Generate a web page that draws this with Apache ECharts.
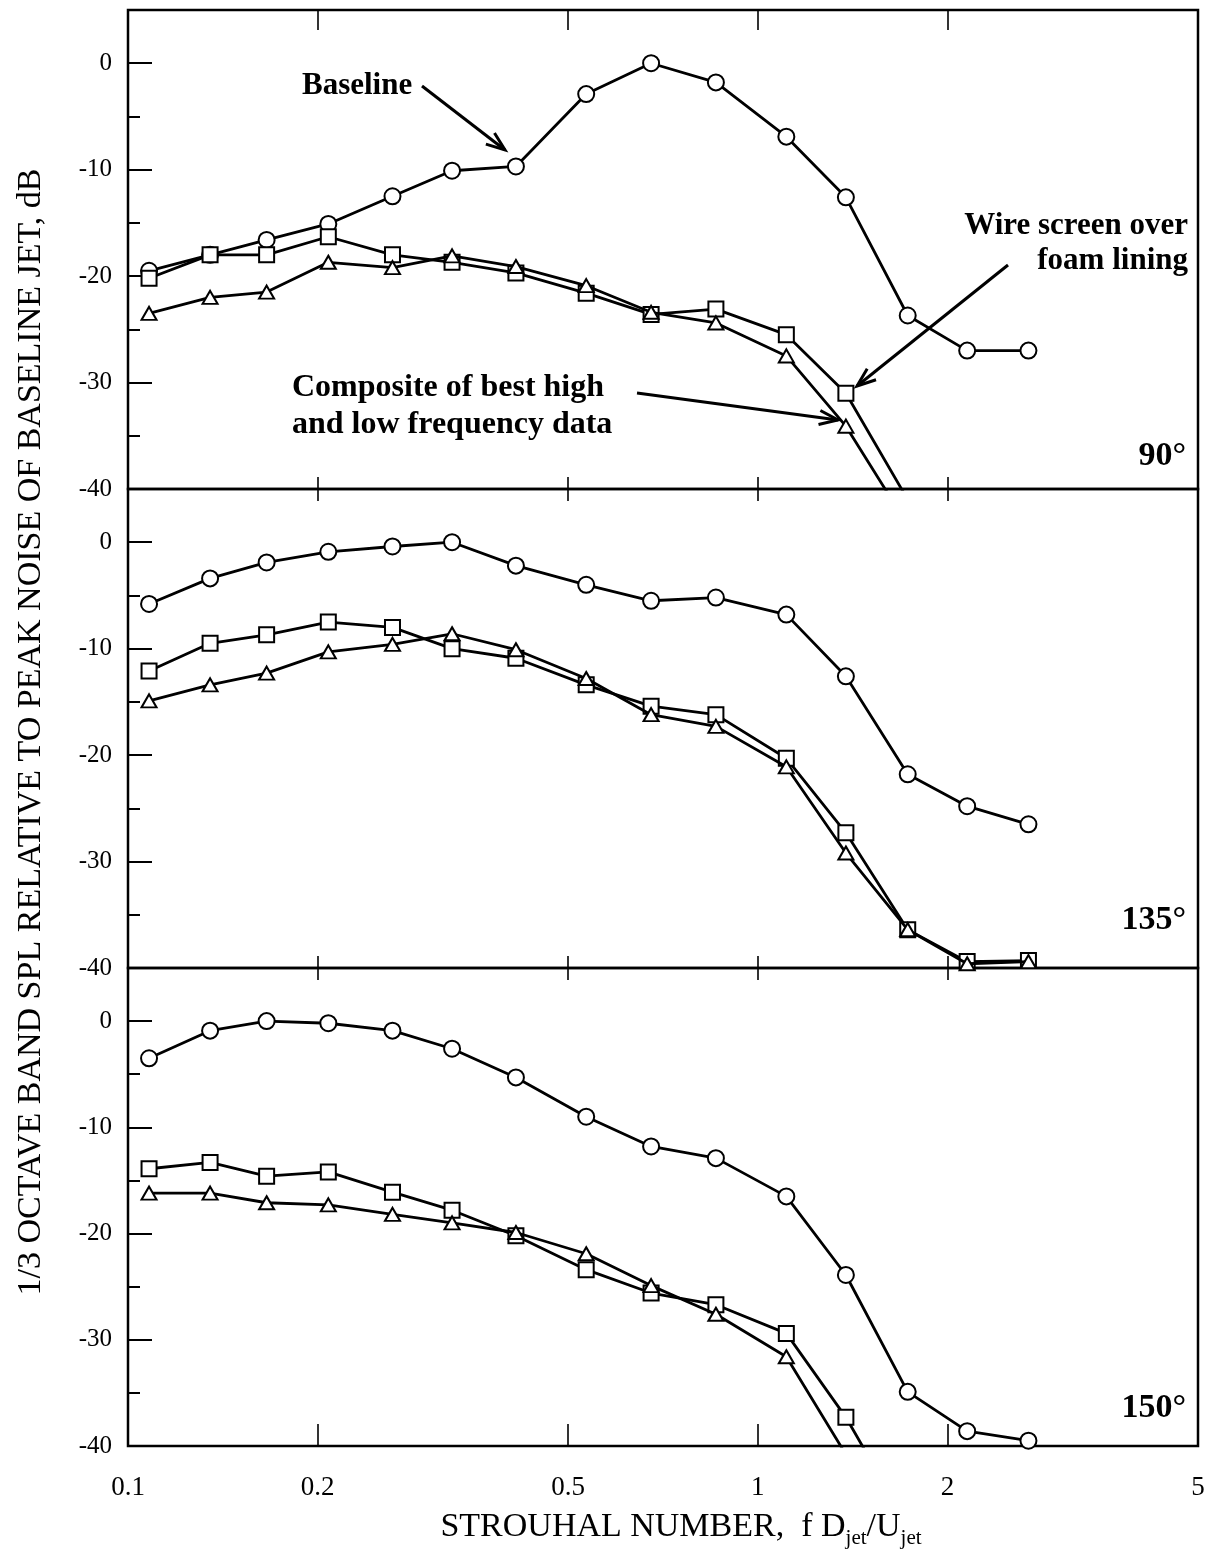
<!DOCTYPE html>
<html><head><meta charset="utf-8">
<script src="https://cdn.jsdelivr.net/npm/echarts@6/dist/echarts.min.js"></script>
<style>html,body{margin:0;padding:0;background:#fff}#c{width:1210px;height:1563px}</style>
</head><body><div id="c"></div>
<script>
// Strouhal numbers (1/3-octave band centres)
const strouhal = [0.108, 0.135, 0.166, 0.208, 0.263, 0.327, 0.413, 0.534, 0.677, 0.858, 1.11, 1.38, 1.73, 2.15, 2.69];

// 90 deg panel
const base90 = [-19.5, -18.0, -16.6, -15.1, -12.5, -10.1, -9.7, -2.9, 0.0, -1.8, -6.9, -12.6, -23.7, -27.0, -27.0];
const wire90 = [-20.2, -18.0, -18.0, -16.3, -18.0, -18.7, -19.7, -21.6, -23.6, -23.1, -25.5, -31.0, -41.0];
const comp90 = [-23.5, -22.0, -21.5, -18.7, -19.2, -18.1, -19.1, -20.9, -23.4, -24.4, -27.5, -34.1, -43.4];
// 135 deg panel
const base135 = [-5.8, -3.4, -1.9, -0.9, -0.4, 0.0, -2.2, -4.0, -5.5, -5.2, -6.8, -12.6, -21.8, -24.8, -26.5];
const wire135 = [-12.1, -9.5, -8.7, -7.5, -8.0, -10.0, -10.9, -13.4, -15.4, -16.2, -20.3, -27.3, -36.4, -39.4, -39.3];
const comp135 = [-14.9, -13.4, -12.3, -10.3, -9.6, -8.6, -10.1, -12.8, -16.2, -17.3, -21.1, -29.2, -36.4, -39.6, -39.4];
// 150 deg panel
const base150 = [-3.5, -0.9, 0.0, -0.2, -0.9, -2.6, -5.3, -9.0, -11.8, -12.9, -16.5, -23.9, -34.9, -38.6, -39.5];
const wire150 = [-13.9, -13.3, -14.6, -14.2, -16.1, -17.8, -20.2, -23.4, -25.6, -26.7, -29.4, -37.3, -47.4];
const comp150 = [-16.2, -16.2, -17.1, -17.3, -18.2, -19.0, -19.9, -21.9, -24.9, -27.6, -31.6, -40.8];

const xTicks = [0.1, 0.2, 0.5, 1, 2, 5];
const yLabels = [-40, -30, -20, -10, 0];
const yMinor = [-35, -25, -15, -5];
const panelLabels = ['90°', '135°', '150°'];

const SERIF = '"Liberation Serif", "Times New Roman", serif';
const chart = echarts.init(document.getElementById('c'), null, {renderer: 'canvas'});

const tops = [10, 489, 968], heights = [479, 479, 478];
const grid = [], xAxis = [], yAxis = [], series = [];
const panels = [[base90, wire90, comp90], [base135, wire135, comp135], [base150, wire150, comp150]];

for (let g = 0; g < 3; g++) {
  grid.push({left: 128, width: 1070, top: tops[g], height: heights[g], show: true,
    borderColor: '#000', borderWidth: 2.5, backgroundColor: 'transparent', containLabel: false});
  // bottom x axis
  xAxis.push({type: 'log', logBase: 10, min: 0.1, max: 5, gridIndex: g, position: 'bottom',
    axisLine: {show: false, onZero: false}, splitLine: {show: false}, minorTick: {show: false},
    axisTick: {show: true, inside: true, length: g === 2 ? 22 : 12, customValues: xTicks,
      lineStyle: {color: '#000', width: 1.6}},
    axisLabel: {show: g === 2, customValues: xTicks, margin: 28, color: '#000', fontFamily: SERIF, fontSize: 27,
      formatter: v => String(v)}});
  // top x axis (tick marks only)
  xAxis.push({type: 'log', logBase: 10, min: 0.1, max: 5, gridIndex: g, position: 'top',
    axisLine: {show: false, onZero: false}, splitLine: {show: false}, minorTick: {show: false},
    axisTick: {show: true, inside: true, length: g === 0 ? 20 : 12, customValues: xTicks,
      lineStyle: {color: '#000', width: 1.6}},
    axisLabel: {show: false}});
  yAxis.push({type: 'value', min: -40, max: 5, gridIndex: g, position: 'left',
    axisLine: {show: false, onZero: false}, splitLine: {show: false},
    axisTick: {show: true, inside: true, length: 24, customValues: yLabels, lineStyle: {color: '#000', width: 2}},
    axisLabel: {show: true, customValues: yLabels, margin: 16, color: '#000', fontFamily: SERIF, fontSize: 25}});
  yAxis.push({type: 'value', min: -40, max: 5, gridIndex: g, position: 'left', offset: 0,
    axisLine: {show: false, onZero: false}, splitLine: {show: false},
    axisTick: {show: true, inside: true, length: 12, customValues: yMinor, lineStyle: {color: '#000', width: 2}},
    axisLabel: {show: false}});

  const syms = [['circle', 16], ['rect', 15], ['triangle', [15, 13]]];
  panels[g].forEach((vals, k) => {
    series.push({type: 'line', xAxisIndex: g * 2, yAxisIndex: g * 2, clip: true,
      data: vals.map((v, i) => [strouhal[i], v]),
      symbol: syms[k][0], symbolSize: syms[k][1], showSymbol: true, showAllSymbol: true,
      lineStyle: {color: '#000', width: 2.8},
      itemStyle: {color: '#fff', borderColor: '#000', borderWidth: 2},
      emphasis: {disabled: true}, silent: true, z: 2 + k});
  });
}

function arrow(x1, y1, x2, y2) {
  const a = Math.atan2(y2 - y1, x2 - x1), L = 20, w = 0.36;
  return [
    {type: 'line', shape: {x1, y1, x2, y2}, style: {stroke: '#000', lineWidth: 3}, z: 20},
    {type: 'polyline', shape: {points: [[x2 - L * Math.cos(a - w), y2 - L * Math.sin(a - w)], [x2, y2],
      [x2 - L * Math.cos(a + w), y2 - L * Math.sin(a + w)]]}, style: {stroke: '#000', lineWidth: 3, fill: null}, z: 20}
  ];
}
function txt(text, x, y, align, size, bold) {
  return {type: 'text', z: 20, style: {text, x, y, align: align, verticalAlign: 'middle',
    font: (bold ? 'bold ' : '') + size + 'px ' + SERIF, fill: '#000'}};
}

// x-axis title with subscripts
const cv = document.createElement('canvas').getContext('2d');
function w(s, size) { cv.font = size + 'px ' + SERIF; return cv.measureText(s).width; }
const tA = 'STROUHAL NUMBER,  f D', tB = 'jet', tC = '/U';
const mainSz = 34, subSz = 21;
const totalW = w(tA, mainSz) + w(tB, subSz) + w(tC, mainSz) + w(tB, subSz);
let x0 = 681 - totalW / 2;
const xt = [];
const yT = 1527;
xt.push(txt(tA, x0, yT, 'left', mainSz, false)); x0 += w(tA, mainSz);
xt.push(txt(tB, x0, yT + 11, 'left', subSz, false)); x0 += w(tB, subSz);
xt.push(txt(tC, x0, yT, 'left', mainSz, false)); x0 += w(tC, mainSz);
xt.push(txt(tB, x0, yT + 11, 'left', subSz, false));

const graphic = [].concat(
  [txt('Baseline', 302, 86, 'left', 31, true)],
  arrow(422, 86, 505, 150),
  [txt('Wire screen over', 1188, 226, 'right', 31, true), txt('foam lining', 1188, 261, 'right', 31, true)],
  arrow(1008, 265, 857, 386),
  [txt('Composite of best high', 292, 388, 'left', 32, true), txt('and low frequency data', 292, 425, 'left', 32, true)],
  arrow(637, 393, 838, 420),
  [txt(panelLabels[0], 1186, 456, 'right', 34, true), txt(panelLabels[1], 1186, 920, 'right', 34, true),
   txt(panelLabels[2], 1186, 1408, 'right', 34, true)],
  [{type: 'text', z: 20, x: 31, y: 732, rotation: Math.PI / 2,
    style: {text: '1/3 OCTAVE BAND SPL RELATIVE TO PEAK NOISE OF BASELINE JET, dB', x: 0, y: 0,
      align: 'center', verticalAlign: 'middle', font: '34px ' + SERIF, fill: '#000'}}],
  xt
);

chart.setOption({animation: false, backgroundColor: '#fff', grid, xAxis, yAxis, series, graphic});
</script></body></html>
